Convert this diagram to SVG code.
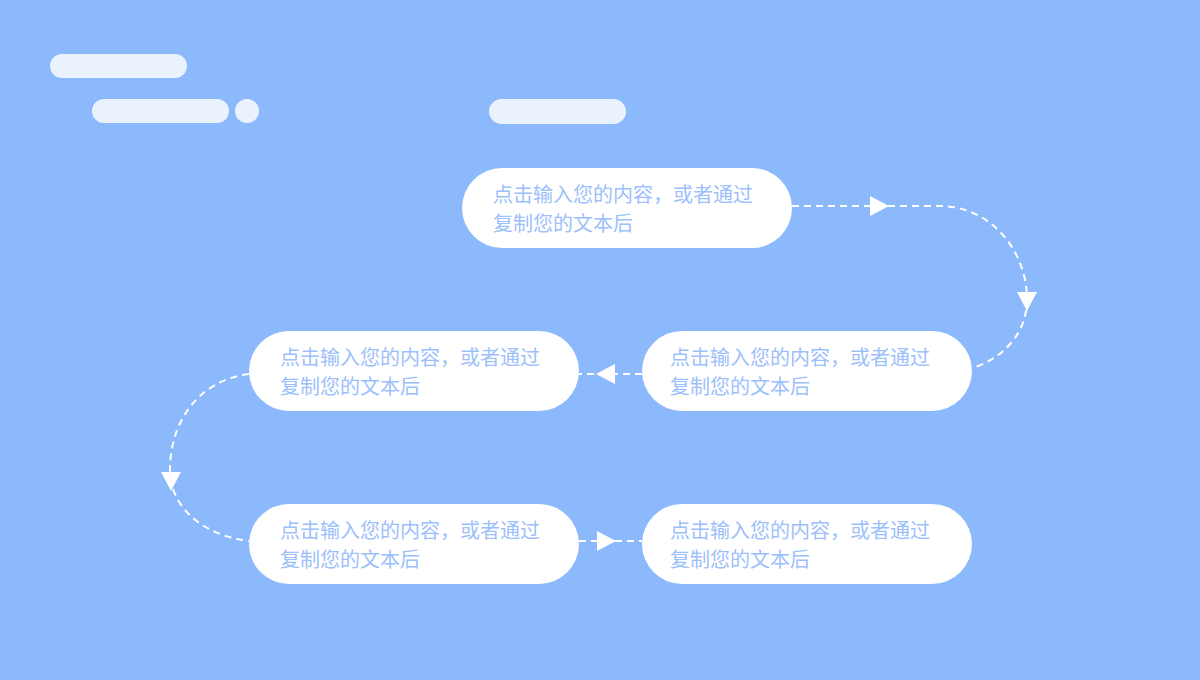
<svg xmlns="http://www.w3.org/2000/svg" width="1200" height="680" viewBox="0 0 1200 680">
<defs>
<style>
.pill{fill:#ffffff}
.deco{fill:#eaf3fd}
.t{font-family:"Noto Sans CJK SC","Noto Sans",sans-serif;font-size:20px;fill:#9cc0fb}
.c{fill:none;stroke:#ffffff;stroke-width:2;stroke-dasharray:7 5}
.ah{fill:#ffffff}
</style>
</defs>
<rect width="1200" height="680" fill="#8cb8fc"/>
<g id="decorations">
<rect class="deco" x="50" y="54" width="137" height="24" rx="12"/>
<rect class="deco" x="92" y="99" width="137" height="24" rx="12"/>
<circle class="deco" cx="247" cy="111" r="12"/>
<rect class="deco" x="489" y="99" width="137" height="25" rx="12.5"/>
</g>
<g id="connectors">
<path class="c" d="M792,206 H940 C990,206 1027,250 1027,300 C1027,335 1000,360 972,368"/>
<polygon class="ah" points="870,196 889,206 870,216"/>
<polygon class="ah" points="1017,292 1037,292 1027,311"/>
<path class="c" d="M642,374 H579"/>
<polygon class="ah" points="615,364 596,374 615,384"/>
<path class="c" d="M249,374 C200,380 170,420 170,470 C170,505 200,535 249,541"/>
<polygon class="ah" points="161,472 181,472 171,491"/>
<path class="c" d="M579,541 H642"/>
<polygon class="ah" points="597,531 616,541 597,551"/>
</g>
<g id="node1">
<rect class="pill" x="462" y="168" width="330" height="80" rx="40"/>
<text class="t" x="493" y="202">点击输入您的内容，或者通过</text>
<text class="t" x="493" y="231">复制您的文本后</text>
</g>
<g id="node2">
<rect class="pill" x="642" y="331" width="330" height="80" rx="40"/>
<text class="t" x="670" y="365">点击输入您的内容，或者通过</text>
<text class="t" x="670" y="394">复制您的文本后</text>
</g>
<g id="node3">
<rect class="pill" x="249" y="331" width="330" height="80" rx="40"/>
<text class="t" x="280" y="365">点击输入您的内容，或者通过</text>
<text class="t" x="280" y="394">复制您的文本后</text>
</g>
<g id="node4">
<rect class="pill" x="249" y="504" width="330" height="80" rx="40"/>
<text class="t" x="280" y="538">点击输入您的内容，或者通过</text>
<text class="t" x="280" y="567">复制您的文本后</text>
</g>
<g id="node5">
<rect class="pill" x="642" y="504" width="330" height="80" rx="40"/>
<text class="t" x="670" y="538">点击输入您的内容，或者通过</text>
<text class="t" x="670" y="567">复制您的文本后</text>
</g>
</svg>
